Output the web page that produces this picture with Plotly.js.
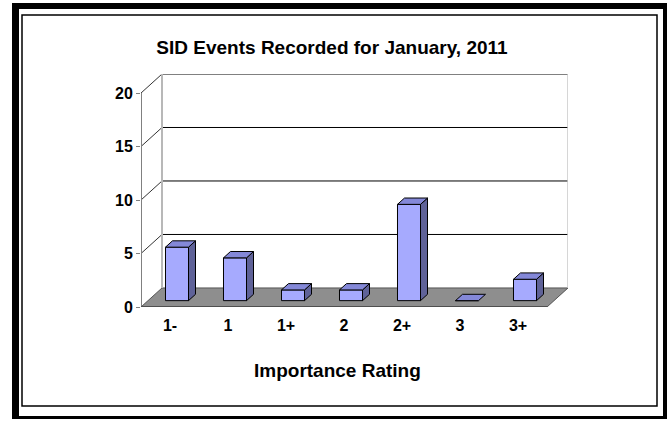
<!DOCTYPE html>
<html>
<head>
<meta charset="utf-8">
<script src="https://cdn.plot.ly/plotly-3.0.1.min.js"></script>
<style>
  html, body { margin: 0; padding: 0; background: #ffffff; }
  #chart { width: 669px; height: 422px; }
</style>
</head>
<body>
<div id="chart"></div>
<script>
// ---- data ----
const categories = ['1-', '1', '1+', '2', '2+', '3', '3+'];
const events = [5, 4, 1, 1, 9, 0, 2];
const yTickValues = [0, 5, 10, 15, 20];
const chartTitle = 'SID Events Recorded for January, 2011';
const xAxisTitle = 'Importance Rating';

// ---- 3D look (style) ----
const DX = 0.362;       // depth offset in category units
const DY = 1.78;        // depth offset in value units
const YMAX = 20;
const BAR_SHIFT = 1 / 3; // bar front face position within depth
const BAR_DEPTH = 1 / 3; // bar thickness as fraction of depth
const BAR_W = 0.397;
const FRONT = '#A6AAFE', TOP = '#8488D8', SIDE = '#5F6298';

const n = categories.length;
const xs = categories.map((c, i) => i);
const x0 = -0.5, x1 = n - 0.5;

// plot area pixel frame (for paper-referenced decorations)
const L = 141, R = 101, T = 74, B = 115, W = 669, H = 422;
const pw = W - L - R, ph = H - T - B;
const px = v => (v - L) / pw;
const py = v => (H - B - v) / ph;

const shapes = [];
// outer frame
shapes.push({type: 'rect', xref: 'paper', yref: 'paper', x0: px(12), x1: px(667), y0: py(419), y1: py(3), fillcolor: '#000', line: {width: 0}, layer: 'below'});
shapes.push({type: 'rect', xref: 'paper', yref: 'paper', x0: px(19), x1: px(663), y0: py(416), y1: py(9), fillcolor: '#fff', line: {width: 0}, layer: 'below'});
shapes.push({type: 'rect', xref: 'paper', yref: 'paper', x0: px(22), x1: px(657), y0: py(406), y1: py(15), fillcolor: 'rgba(0,0,0,0)', line: {color: '#000', width: 1.5}, layer: 'below'});

// back wall
shapes.push({type: 'rect', xref: 'x', yref: 'y', x0: x0 + DX, x1: x1 + DX, y0: DY, y1: YMAX + DY, fillcolor: '#fff', line: {width: 0}, layer: 'below'});
// side wall
shapes.push({type: 'path', xref: 'x', yref: 'y', path: `M ${x0} 0 L ${x0 + DX} ${DY} L ${x0 + DX} ${YMAX + DY} L ${x0} ${YMAX} Z`, fillcolor: '#fff', line: {width: 0}, layer: 'below'});
// floor
shapes.push({type: 'path', xref: 'x', yref: 'y', path: `M ${x0} 0 L ${x1} 0 L ${x1 + DX} ${DY} L ${x0 + DX} ${DY} Z`, fillcolor: '#8E8E8E', line: {color: '#555', width: 1}, layer: 'below'});
// gridlines on walls
yTickValues.forEach(v => {
  if (v === 0) return;
  const top = v === YMAX;
  shapes.push({type: 'line', xref: 'x', yref: 'y', x0: x0 + DX, x1: x1 + DX, y0: v + DY, y1: v + DY, line: {color: top ? '#808080' : '#000', width: top ? 2 : 1}, layer: 'below'});
  shapes.push({type: 'line', xref: 'x', yref: 'y', x0: x0, x1: x0 + DX, y0: v, y1: v + DY, line: {color: '#333', width: 1}, layer: 'below'});
});
// wall edges
shapes.push({type: 'line', xref: 'x', yref: 'y', x0: x0 + DX, x1: x0 + DX, y0: DY, y1: YMAX + DY, line: {color: '#B8B8B8', width: 2}, layer: 'below'});
shapes.push({type: 'line', xref: 'x', yref: 'y', x0: x1 + DX, x1: x1 + DX, y0: DY, y1: YMAX + DY, line: {color: '#C8C8C8', width: 1.5}, layer: 'below'});
shapes.push({type: 'line', xref: 'x', yref: 'y', x0: x0, x1: x0, y0: 0, y1: YMAX, line: {color: '#808080', width: 2}, layer: 'below'});
// front baseline
shapes.push({type: 'line', xref: 'x', yref: 'y', x0: x0, x1: x1, y0: 0, y1: 0, line: {color: '#444', width: 1.5}, layer: 'below'});
// category boundary ticks
for (let i = 0; i <= n; i++) {
  shapes.push({type: 'line', xref: 'x', yref: 'y', ysizemode: 'pixel', yanchor: 0, x0: i - 0.5, x1: i - 0.5, y0: 0, y1: -5, line: {color: '#808080', width: 1}});
}

// bar faces
const fShiftX = DX * BAR_SHIFT, fShiftY = DY * BAR_SHIFT;
const dX = DX * BAR_DEPTH, dY = DY * BAR_DEPTH;
const traces = [];
traces.push({
  type: 'bar', x: xs.map(i => i + fShiftX), y: events, base: events.map(() => fShiftY),
  width: BAR_W, marker: {color: FRONT, line: {color: '#000', width: 1}}, hoverinfo: 'skip', showlegend: false
});
events.forEach((v, i) => {
  const lx = i + fShiftX - BAR_W / 2, rx = i + fShiftX + BAR_W / 2;
  const b = fShiftY, t = v + fShiftY;
  // side face
  if (v > 0) {
    traces.push({type: 'scatter', mode: 'lines', fill: 'toself', fillcolor: SIDE,
      x: [rx, rx + dX, rx + dX, rx, rx], y: [b, b + dY, t + dY, t, b],
      line: {color: '#000', width: 1}, hoverinfo: 'skip', showlegend: false});
  }
  // top face
  traces.push({type: 'scatter', mode: 'lines', fill: 'toself', fillcolor: TOP,
    x: [lx, rx, rx + dX, lx + dX, lx], y: [t, t, t + dY, t + dY, t],
    line: {color: '#000', width: 1}, hoverinfo: 'skip', showlegend: false});
});

const font = {family: 'Liberation Sans, Arial, sans-serif', color: '#000'};

const layout = {
  width: W, height: H,
  margin: {l: L, r: R, t: T, b: B, pad: 0},
  paper_bgcolor: '#fff', plot_bgcolor: 'rgba(0,0,0,0)',
  showlegend: false,
  title: {text: chartTitle, x: 332 / W, xanchor: 'center', y: 1 - 47 / H, yanchor: 'middle', yref: 'container',
    font: Object.assign({}, font, {size: 19, weight: 700})},
  xaxis: {range: [x0, x1 + DX], tickmode: 'array', tickvals: xs, ticktext: categories,
    ticks: '', showgrid: false, zeroline: false, showline: false, fixedrange: true,
    ticklabelstandoff: 7,
    tickfont: Object.assign({}, font, {size: 16, weight: 700})},
  yaxis: {range: [0, YMAX + DY], tickmode: 'array', tickvals: yTickValues,
    ticks: 'outside', ticklen: 4, tickcolor: '#808080', showgrid: false, zeroline: false, showline: false, fixedrange: true,
    tickfont: Object.assign({}, font, {size: 16, weight: 700})},
  annotations: [{text: xAxisTitle, xref: 'paper', yref: 'paper', x: px(337), y: py(370), xanchor: 'center', yanchor: 'middle',
    showarrow: false, font: Object.assign({}, font, {size: 19, weight: 700})}],
  shapes: shapes,
  bargap: 0
};

Plotly.newPlot('chart', traces, layout, {displayModeBar: false, staticPlot: true});
</script>
</body>
</html>
